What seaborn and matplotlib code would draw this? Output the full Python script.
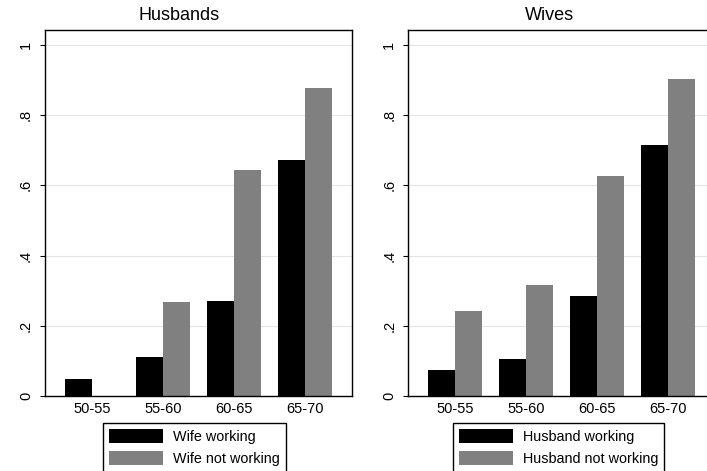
import numpy as np
import pandas as pd
import matplotlib
matplotlib.use("Agg")
import matplotlib.pyplot as plt
import seaborn as sns

ages = ["50-55", "55-60", "60-65", "65-70"]

husb_wife_working = [0.047, 0.110, 0.271, 0.673]
husb_wife_not_working = [0.0, 0.268, 0.643, 0.877]

wife_husb_working = [0.074, 0.105, 0.285, 0.714]
wife_husb_not_working = [0.242, 0.316, 0.627, 0.902]

yticks = [0, 0.2, 0.4, 0.6, 0.8, 1.0]
ytick_labels = ["0", ".2", ".4", ".6", ".8", "1"]

sns.set_theme(style="white")
plt.rcParams["font.family"] = ["Liberation Sans", "DejaVu Sans"]
plt.rcParams["text.color"] = "black"
plt.rcParams["xtick.color"] = "black"
plt.rcParams["ytick.color"] = "black"
plt.rcParams["axes.labelcolor"] = "black"

W, H = 707, 471
fig = plt.figure(figsize=(W / 100, H / 100), dpi=100)


def px_axes(x0, x1, ytop, ybot):
    return fig.add_axes([x0 / W, (H - ybot) / H, (x1 - x0) / W, (ybot - ytop) / H])


def make_panel(ax, s1, s2, lab1, lab2, leg_x):
    df = pd.DataFrame({
        "age": ages * 2,
        "value": list(s1) + list(s2),
        "group": [lab1] * len(ages) + [lab2] * len(ages),
    })
    sns.barplot(data=df, x="age", y="value", hue="group", order=ages,
                hue_order=[lab1, lab2], palette=["#000000", "#808080"],
                saturation=1, width=0.76, linewidth=0, errorbar=None, ax=ax)
    ax.set_xlim(-0.66, 3.66)
    ax.set_ylim(0, 1.042)
    ax.set_yticks(yticks)
    ax.set_yticklabels(ytick_labels, rotation=90, va="center")
    ax.set_xlabel("")
    ax.set_ylabel("")
    ax.grid(axis="y", color="#e4e4e4", linewidth=0.8)
    ax.set_axisbelow(True)
    ax.tick_params(axis="y", left=True, length=3.6, width=0.8, color="black",
                   labelcolor="black", pad=5, labelsize=10.5)
    ax.tick_params(axis="x", bottom=False, length=0, pad=4, labelsize=10.5,
                   labelcolor="black")
    for sp in ax.spines.values():
        sp.set_color("black")
        sp.set_linewidth(1.0)
    handles, labels = ax.get_legend_handles_labels()
    ax.get_legend().remove()
    leg = fig.legend(handles, labels, loc="upper left",
                     bbox_to_anchor=(leg_x / W, (H - 423.3) / H),
                     bbox_transform=fig.transFigure, fontsize=10.4,
                     handlelength=3.75, handleheight=1.09, handletextpad=0.7,
                     labelspacing=0.46, borderpad=0.42, borderaxespad=0,
                     fancybox=False, framealpha=1, edgecolor="black")
    leg.get_frame().set_linewidth(1.0)
    for t in leg.get_texts():
        t.set_color("black")


ax1 = px_axes(45, 352, 30, 396)
make_panel(ax1, husb_wife_working, husb_wife_not_working,
           "Wife working", "Wife not working", 103)

ax2 = px_axes(408.3, 715.3, 30, 396)
make_panel(ax2, wife_husb_working, wife_husb_not_working,
           "Husband working", "Husband not working", 452.7)

fig.text(179 / W, 1 - 15 / H, "Husbands", ha="center", va="center", fontsize=13)
fig.text(549 / W, 1 - 15 / H, "Wives", ha="center", va="center", fontsize=13)

fig.savefig("out.png", dpi=100)
